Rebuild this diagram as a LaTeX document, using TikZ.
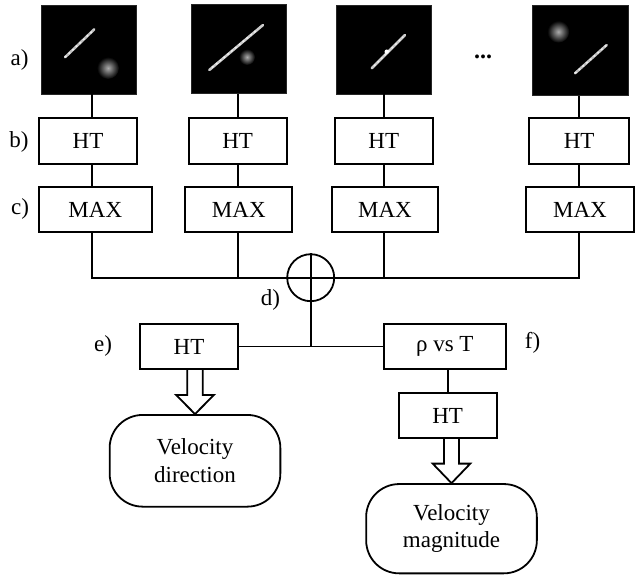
\documentclass[tikz,border=0pt]{standalone}
\usepackage{fontspec}
\setmainfont{Liberation Serif}
\begin{document}
\begin{tikzpicture}[x=1pt,y=-1pt,
  txt/.style={font=\fontsize{23}{27.5}\selectfont},
  box/.style={draw, line width=1.8pt, inner sep=0pt, minimum height=46pt, txt},
  lbl/.style={inner sep=0pt, txt},
  conn/.style={line width=1.8pt},
  img/.style={fill=black, draw=black!85, minimum width=95pt, minimum height=89pt, inner sep=0pt},
  endbox/.style={draw, line width=1.8pt, rounded corners=33pt, inner sep=0pt, align=center, txt},
  hollow/.style={draw, line width=1.8pt, fill=white, line join=miter},
  streak/.style={gray!50, line width=2.6pt, line cap=round},
  streakdots/.style={white!85!gray, line width=1.6pt, dash pattern=on 2pt off 3pt},
  blob/.style={shading=radial, inner color=gray!65, outer color=black}
]
\useasboundingbox (0,0) rectangle (637,575);

% column axes
\coordinate (c1) at (92.3,0);
\coordinate (c2) at (237.7,0);
\coordinate (c3) at (384,0);
\coordinate (c4) at (579,0);

% a) images
\node[img] (img1) at (89,49.5) {};
\node[img] (img2) at (238.3,49) {};
\node[img] (img3) at (383.8,49.5) {};
\node[img, minimum width=96pt, minimum height=90.7pt] (img4) at (579.8,50.3) {};

% image contents
\fill[blob] (108,68) circle (11);
\draw[streak] (65,57.3) -- (94.3,29.3);
\draw[streakdots] (65,57.3) -- (94.3,29.3);
\fill[blob] (247,57) circle (8);
\draw[streak, gray!40] (209.3,70) -- (263,25);
\draw[streakdots] (212,67.5) -- (258,29);
\draw[streak, gray!40] (371.7,68.3) -- (405,35);
\draw[streakdots] (374,66) -- (403,37);
\fill[white] (386.7,51.7) circle (2.2);
\fill[blob] (558.3,31.7) circle (11);
\draw[streak] (575,73.3) -- (606.7,45);
\draw[streakdots] (575,73.3) -- (606.7,45);

\node[lbl, font=\fontsize{24}{27}\selectfont\bfseries] (dots) at (483,57) {...};

% b) HT
\node[box, minimum width=98pt] (ht1) at (88,140.8) {HT};
\node[box, minimum width=98pt] (ht2) at (237.7,140.8) {HT};
\node[box, minimum width=97.7pt] (ht3) at (383.8,140.8) {HT};
\node[box, minimum width=99.7pt] (ht4) at (579.2,140.8) {HT};

% c) MAX
\node[box, minimum width=112.7pt, minimum height=45.6pt] (max1) at (95.3,209.5) {MAX};
\node[box, minimum width=107pt, minimum height=45.6pt] (max2) at (238.8,209.5) {MAX};
\node[box, minimum width=106.6pt, minimum height=45.6pt] (max3) at (385,209.5) {MAX};
\node[box, minimum width=108pt, minimum height=45.6pt] (max4) at (580,209.5) {MAX};

% d) sum
\node[draw, circle, line width=1.8pt, minimum size=47pt, inner sep=0pt] (sum) at (310.7,277.7) {};

% e) f)
\node[box, minimum width=98pt, minimum height=45.6pt] (ht5) at (189,346.5) {HT};
\node[box, minimum width=122.3pt, minimum height=45.6pt] (rho) at (444.8,346.5) {ρ vs T};
\node[box, minimum width=98pt, minimum height=45.6pt] (ht6) at (447.7,415.5) {HT};

\node[endbox, minimum width=170.7pt, minimum height=91.7pt] (vel1) at (195,460.8) {Velocity\\direction};
\node[endbox, minimum width=170.7pt, minimum height=89.3pt] (vel2) at (451.5,528.7) {Velocity\\magnitude};

% labels
\node[lbl] (la) at (19.5,60) {a)};
\node[lbl] (lb) at (19,142) {b)};
\node[lbl] (lc) at (20,209) {c)};
\node[lbl] (ld) at (270.5,300) {d)};
\node[lbl] (le) at (103,346) {e)};
\node[lbl] (lf) at (532.5,343) {f)};

% connectors
\draw[conn] (img1.south -| c1) -- (ht1.north -| c1);
\draw[conn] (img2.south -| c2) -- (ht2.north -| c2);
\draw[conn] (img3.south -| c3) -- (ht3.north -| c3);
\draw[conn] (img4.south -| c4) -- (ht4.north -| c4);
\draw[conn] (ht1.south -| c1) -- (max1.north -| c1);
\draw[conn] (ht2.south -| c2) -- (max2.north -| c2);
\draw[conn] (ht3.south -| c3) -- (max3.north -| c3);
\draw[conn] (ht4.south -| c4) -- (max4.north -| c4);
\draw[conn] (max1.south -| c1) |- (sum.west);
\draw[conn] (max4.south -| c4) |- (sum.east);
\draw[conn] (max2.south -| c2) -- (c2 |- sum.center);
\draw[conn] (max3.south -| c3) -- (c3 |- sum.center);
\draw[conn] (sum.west) -- (sum.east);
\draw[conn] (sum.north) -- (sum.south);
\draw[conn] (sum.south) -- (sum.south |- rho.west);
\draw[conn] (ht5.east) -- (rho.west);
\draw[conn] (rho.south -| ht6.north) -- (ht6.north);

% hollow arrows
\coordinate (a1) at (vel1.north |- ht5.south);
\draw[hollow] ([xshift=-7.8pt]a1) -- ([xshift=-7.8pt, yshift=-24.7pt]a1)
  -- ([xshift=-19pt, yshift=-24.7pt]a1) -- (vel1.north)
  -- ([xshift=19pt, yshift=-24.7pt]a1) -- ([xshift=7.8pt, yshift=-24.7pt]a1)
  -- ([xshift=7.8pt]a1);
\coordinate (a2) at (vel2.north |- ht6.south);
\draw[hollow] ([xshift=-7.5pt]a2) -- ([xshift=-7.5pt, yshift=-24.4pt]a2)
  -- ([xshift=-18.8pt, yshift=-24.4pt]a2) -- (vel2.north)
  -- ([xshift=18.8pt, yshift=-24.4pt]a2) -- ([xshift=7.5pt, yshift=-24.4pt]a2)
  -- ([xshift=7.5pt]a2);
\end{tikzpicture}
\end{document}
